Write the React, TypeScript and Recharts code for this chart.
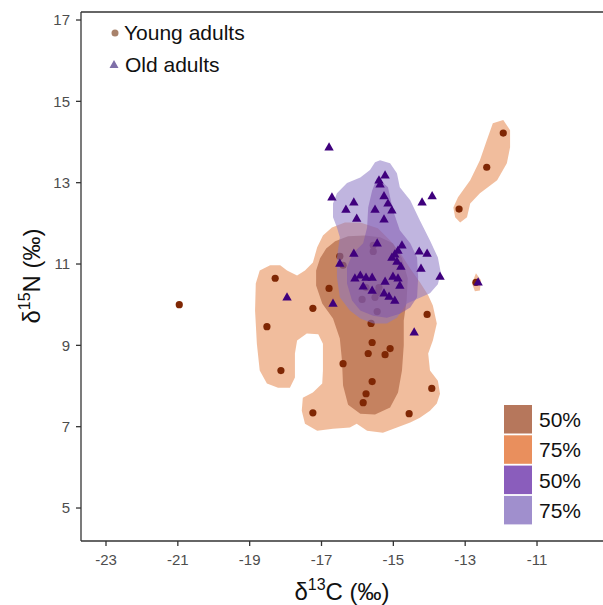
import React from "react";
import { ScatterChart, Scatter, XAxis, YAxis, ReferenceLine, Label } from "recharts";

type P = [number, number];

const xTicks = [-23, -21, -19, -17, -15, -13, -11];
const yTicks = [5, 7, 9, 11, 13, 15, 17];
const xDomain: [number, number] = [-23.696, -9.163];
const yDomain: [number, number] = [4.189, 17.197];

const youngAdults: P[] = [
  [-20.96, 10.0], [-18.52, 9.46], [-18.13, 8.38], [-18.29, 10.65], [-17.24, 9.91],
  [-16.79, 10.4], [-16.49, 11.19], [-16.4, 10.97], [-15.56, 11.46], [-15.56, 11.31],
  [-15.87, 10.13], [-15.62, 9.54], [-15.45, 9.83], [-15.4, 10.42], [-15.45, 10.3],
  [-15.51, 10.18], [-15.76, 10.42], [-14.06, 9.76], [-15.59, 9.07], [-15.7, 8.8],
  [-15.23, 8.77], [-15.09, 8.92], [-16.4, 8.55], [-15.59, 8.11], [-15.76, 7.81],
  [-15.84, 7.59], [-13.93, 7.94], [-14.56, 7.32], [-17.24, 7.34], [-11.94, 14.22],
  [-12.4, 13.38], [-13.17, 12.35], [-12.7, 10.55],
];

const oldAdults: P[] = [
  [-16.79, 13.87], [-15.23, 13.18], [-15.4, 13.06], [-15.37, 12.96], [-16.71, 12.64],
  [-16.1, 12.52], [-16.32, 12.34], [-15.26, 12.67], [-15.15, 12.49], [-15.04, 12.32],
  [-15.51, 12.34], [-16.02, 12.12], [-15.26, 12.1], [-14.2, 12.52], [-13.92, 12.67],
  [-15.45, 11.51], [-16.1, 11.26], [-16.49, 11.01], [-14.76, 11.46], [-14.87, 11.33],
  [-14.96, 11.24], [-15.04, 11.16], [-14.9, 11.06], [-14.79, 10.94], [-14.28, 11.31],
  [-14.06, 11.26], [-14.23, 10.89], [-13.7, 10.69], [-12.64, 10.55], [-15.92, 10.72],
  [-15.76, 10.67], [-15.59, 10.67], [-15.01, 10.69], [-14.87, 10.65], [-15.84, 10.45],
  [-15.59, 10.35], [-15.26, 10.28], [-15.12, 10.2], [-15.23, 10.57], [-14.82, 10.47],
  [-14.96, 10.1], [-16.68, 10.03], [-17.96, 10.18], [-14.42, 9.32], [-16.07, 10.65],
];

// density contour outlines (traced)
const young75Main: P[] = [
  [-18.43, 10.97], [-18.72, 10.84], [-18.83, 10.52], [-18.85, 9.86], [-18.8, 9.04],
  [-18.72, 8.38], [-18.52, 8.06], [-18.21, 7.96], [-17.88, 7.96], [-17.74, 8.21],
  [-17.74, 8.8], [-17.68, 9.12], [-17.41, 9.29], [-17.09, 9.27], [-16.96, 9.04],
  [-16.96, 8.38], [-16.98, 8.06], [-17.24, 7.84], [-17.52, 7.71], [-17.55, 7.39],
  [-17.46, 7.07], [-17.12, 6.9], [-16.68, 6.95], [-16.21, 6.98], [-16.02, 7.07],
  [-15.73, 6.9], [-15.29, 6.85], [-14.9, 6.98], [-14.53, 7.1], [-14.26, 7.22],
  [-13.98, 7.39], [-13.79, 7.57], [-13.7, 7.81], [-13.76, 8.13], [-13.98, 8.38],
  [-14.03, 8.8], [-13.9, 9.12], [-13.79, 9.54], [-13.9, 9.98], [-14.03, 10.23],
  [-14.26, 10.55], [-14.53, 10.89], [-14.82, 11.29], [-15.09, 11.58], [-15.43, 11.88],
  [-15.92, 12.02], [-16.35, 12.02], [-16.71, 11.9], [-16.96, 11.7], [-17.12, 11.41],
  [-17.24, 11.04], [-17.46, 10.84], [-17.68, 10.72], [-17.96, 10.84], [-18.15, 10.97],
];
const young75Upper: P[] = [
  [-11.94, 14.54], [-11.75, 14.29], [-11.75, 13.87], [-11.84, 13.48], [-12.11, 13.06],
  [-12.59, 12.74], [-12.86, 12.49], [-12.95, 12.15], [-13.14, 12.02], [-13.28, 12.15],
  [-13.33, 12.39], [-13.2, 12.64], [-12.86, 13.06], [-12.59, 13.55], [-12.4, 14.04],
  [-12.23, 14.46],
];
const young75Small: P[] = [
  [-12.7, 10.77], [-12.56, 10.6], [-12.59, 10.35], [-12.73, 10.33], [-12.81, 10.52],
];
const young50: P[] = [
  [-17.04, 11.14], [-16.87, 11.38], [-16.62, 11.56], [-16.26, 11.68], [-15.79, 11.7],
  [-15.37, 11.66], [-15.01, 11.51], [-14.76, 11.14], [-14.6, 10.65], [-14.63, 10.1],
  [-14.71, 9.61], [-14.71, 9.0], [-14.76, 8.38], [-14.87, 7.84], [-15.09, 7.47],
  [-15.51, 7.3], [-15.92, 7.32], [-16.26, 7.54], [-16.4, 8.01], [-16.43, 8.63],
  [-16.49, 9.17], [-16.68, 9.66], [-16.98, 10.03], [-17.15, 10.47], [-17.15, 10.84],
];
const old75: P[] = [
  [-15.37, 13.55], [-15.09, 13.48], [-14.9, 13.23], [-14.82, 12.89], [-14.53, 12.57],
  [-14.26, 12.07], [-13.98, 11.58], [-13.76, 11.16], [-13.68, 10.79], [-13.76, 10.5],
  [-13.98, 10.28], [-14.31, 10.15], [-14.62, 10.03], [-14.9, 9.68], [-15.18, 9.54],
  [-15.56, 9.54], [-15.92, 9.66], [-16.21, 9.86], [-16.49, 10.18], [-16.57, 10.67],
  [-16.57, 11.16], [-16.49, 11.66], [-16.57, 11.9], [-16.68, 12.15], [-16.68, 12.49],
  [-16.57, 12.74], [-16.29, 12.99], [-15.92, 13.13], [-15.65, 13.31], [-15.51, 13.5],
];
const old50: P[] = [
  [-15.45, 13.13], [-15.15, 12.89], [-15.01, 12.32], [-14.82, 11.83], [-14.53, 11.51],
  [-14.34, 11.16], [-14.31, 10.67], [-14.34, 10.18], [-14.53, 9.93], [-14.82, 9.78],
  [-15.18, 9.68], [-15.56, 9.73], [-15.92, 9.86], [-16.15, 10.1], [-16.29, 10.52],
  [-16.29, 10.92], [-16.13, 11.26], [-15.84, 11.51], [-15.73, 11.9], [-15.7, 12.39],
  [-15.59, 12.81],
];

const groupNames = ["Young adults", "Old adults"];
const levelLabels = ["50%", "75%", "50%", "75%"];
const levelColors = ["#b6775c", "#e98f5d", "#8a5dbc", "#a08fcd"];

const toRows = (pts: P[]) => pts.map(([x, y]) => ({ x, y }));
const noDot = () => <g />;

const region = (key: string, pts: P[], fill: string, opacity: number) => (
  <Scatter
    key={key}
    data={toRows(pts)}
    shape={noDot}
    line={{ fill, fillOpacity: opacity, stroke: "none" }}
    lineJointType="linearClosed"
    isAnimationActive={false}
    legendType="none"
  />
);

const Dot = (p: any) => <circle cx={p.cx} cy={p.cy} r={3.6} fill="#7f2704" />;
const Tri = (p: any) => (
  <polygon
    points={`${p.cx},${p.cy - 5} ${p.cx + 4.7},${p.cy + 3.2} ${p.cx - 4.7},${p.cy + 3.2}`}
    fill="#3f007d"
  />
);

const axisStroke = { stroke: "#333", strokeWidth: 1.3 };
const tickStyle = { fill: "#4d4d4d", fontSize: 15, fontFamily: "Liberation Sans, Arial, sans-serif" };
const titleFont = "Liberation Sans, Arial, sans-serif";

export default function App() {
  return (
    <div style={{ position: "relative", width: 603, height: 605, background: "#fff" }}>
      <style>{`body{margin:0}`}</style>
      <ScatterChart width={603} height={605} margin={{ top: 12, right: 0, bottom: 0, left: 0 }}>
        <XAxis
          dataKey="x"
          type="number"
          domain={xDomain}
          ticks={xTicks}
          allowDataOverflow
          height={64}
          axisLine={axisStroke}
          tickLine={axisStroke}
          tickSize={5}
          tickMargin={8}
          tick={tickStyle}
        >
          <Label
            content={() => (
              <text x={342} y={600} textAnchor="middle" fontSize={24} fontFamily={titleFont} fill="#111">
                δ<tspan fontSize={16} dy={-10}>13</tspan>
                <tspan dy={10}>C (‰)</tspan>
              </text>
            )}
          />
        </XAxis>
        <YAxis
          dataKey="y"
          type="number"
          domain={yDomain}
          ticks={yTicks}
          allowDataOverflow
          width={81}
          axisLine={axisStroke}
          tickLine={axisStroke}
          tickSize={5}
          tickMargin={6}
          tick={tickStyle}
        >
          <Label
            content={() => (
              <text
                x={40}
                y={276}
                transform="rotate(-90 40 276)"
                textAnchor="middle"
                fontSize={24}
                fontFamily={titleFont}
                fill="#111"
              >
                δ<tspan fontSize={16} dy={-10}>15</tspan>
                <tspan dy={10}>N (‰)</tspan>
              </text>
            )}
          />
        </YAxis>
        <ReferenceLine y={yDomain[1]} stroke="#333" strokeWidth={1.3} />
        {region("y75a", young75Main, "#e8915c", 0.6)}
        {region("y75b", young75Upper, "#e8915c", 0.6)}
        {region("y75c", young75Small, "#e8915c", 0.6)}
        {region("y50", young50, "#a0522d", 0.55)}
        <Scatter data={toRows(youngAdults)} shape={Dot} isAnimationActive={false} />
        {region("o75", old75, "#8c78c4", 0.55)}
        {region("o50", old50, "#7b52ae", 0.5)}
        <Scatter data={toRows(oldAdults)} shape={Tri} isAnimationActive={false} />
      </ScatterChart>
      <svg
        width={603}
        height={605}
        style={{ position: "absolute", left: 0, top: 0, pointerEvents: "none" }}
        fontFamily={titleFont}
      >
        <circle cx={115} cy={33} r={3.5} fill="#a8826b" />
        <text x={124} y={40} fontSize={21} fill="#111">{groupNames[0]}</text>
        <polygon points="114,60 118.5,68 109.5,68" fill="#7e6fa8" />
        <text x={125} y={72} fontSize={21} fill="#111">{groupNames[1]}</text>
        {levelLabels.map((t, i) => (
          <g key={i}>
            <rect x={504} y={405 + i * 30.3} width={28} height={28.5} fill={levelColors[i]} />
            <text x={539} y={427 + i * 30.3} fontSize={21} fill="#111">{t}</text>
          </g>
        ))}
      </svg>
    </div>
  );
}
